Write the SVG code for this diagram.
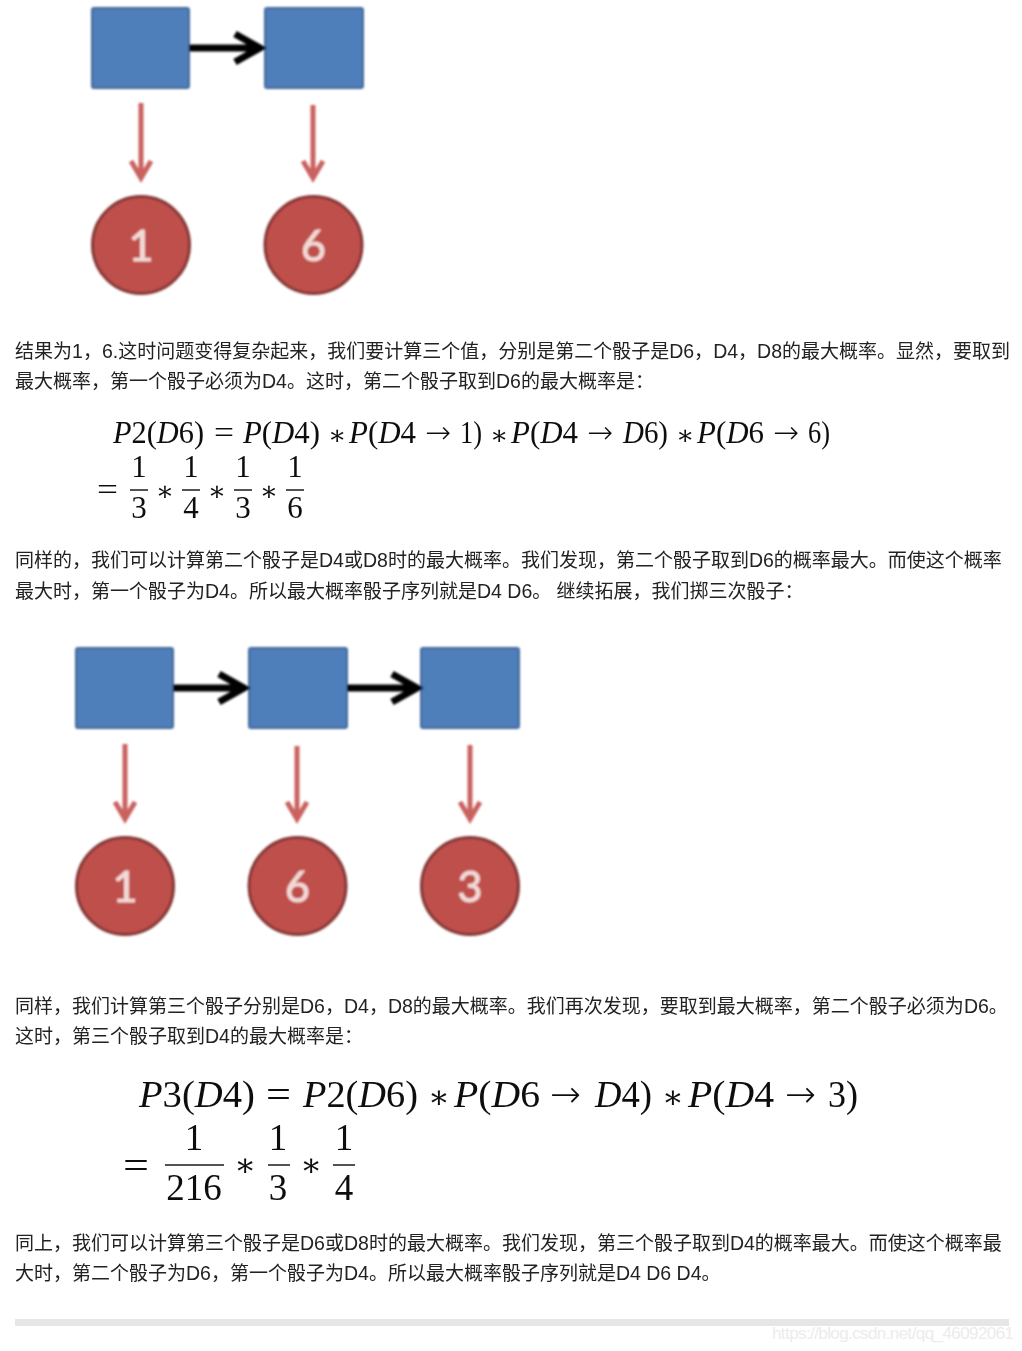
<svg xmlns="http://www.w3.org/2000/svg" width="1022" height="1351" viewBox="0 0 1022 1351">
<style>
.body{font-family:"Liberation Sans","Noto Sans CJK SC",sans-serif;font-size:19px;fill:#222}
.l{font-size:19.500px}
.m{font-family:"Liberation Serif","DejaVu Serif",serif;fill:#111}
.m1{font-size:31px}.m2{font-size:37px}
.i{font-style:italic}
.ar{font-family:"DejaVu Sans",sans-serif;font-weight:300}
.st{font-size:27px}
.st2{font-size:32px}
.sq{fill:#4f7fba;stroke:#44699a;stroke-width:2}
.ci{fill:#bf504c;stroke:#843634;stroke-width:3}
.n{font-family:"Lato","Open Sans",sans-serif;font-size:43px;fill:#f3dad7;stroke:#f3dad7;stroke-width:0.900;text-anchor:middle}
.blk{fill:none;stroke:#000;stroke-width:7}
.red{fill:none;stroke:#c9625f;stroke-width:5}
.bar{stroke:#1a1a1a;stroke-width:1.600}
.mm{text-anchor:middle}
</style>
<defs>
<filter id="b" x="-5%" y="-5%" width="110%" height="110%"><feGaussianBlur stdDeviation="1"/></filter>
<filter id="s" x="-2%" y="-2%" width="104%" height="104%"><feGaussianBlur stdDeviation="0.4"/></filter>
<filter id="t" x="-2%" y="-2%" width="104%" height="104%"><feGaussianBlur stdDeviation="0.22"/></filter>
</defs>
<rect width="1022" height="1351" fill="#fff"/>
<g id="fig1" filter="url(#b)">
<g id="a1"><rect class="sq" x="92" y="8" width="97" height="80" rx="2"/></g>
<g id="a2"><rect class="sq" x="265" y="8" width="98" height="80" rx="2"/></g>
<g id="a3"><circle class="ci" cx="141" cy="245" r="48.500"/><text class="n" x="141" y="261">1</text></g>
<g id="a4"><circle class="ci" cx="313.500" cy="245" r="48.500"/><text class="n" x="313.500" y="261">6</text></g>
<g id="conn1">
<path class="blk" d="M189 48H260M235 34L260 48L235 62"/>
<path class="red" d="M141 103V178M131 161L141 178L151 161"/>
<path class="red" d="M313 105V178M303 161L313 178L323 161"/>
</g>
</g>
<g id="fig2" filter="url(#b)">
<g id="b1"><rect class="sq" x="76" y="648" width="97" height="80" rx="2"/></g>
<g id="b2"><rect class="sq" x="249" y="648" width="98" height="80" rx="2"/></g>
<g id="b3"><rect class="sq" x="421" y="648" width="98" height="80" rx="2"/></g>
<g id="b4"><circle class="ci" cx="125" cy="886" r="48.500"/><text class="n" x="125" y="902">1</text></g>
<g id="b5"><circle class="ci" cx="297.500" cy="886" r="48.500"/><text class="n" x="297.500" y="902">6</text></g>
<g id="b6"><circle class="ci" cx="470" cy="886" r="48.500"/><text class="n" x="470" y="902">3</text></g>
<g id="conn2">
<path class="blk" d="M173 688H244M219 674L244 688L219 702"/>
<path class="blk" d="M347 688H417M392 674L417 688L392 702"/>
<path class="red" d="M125 744V819M115 802L125 819L135 802"/>
<path class="red" d="M297 746V819M287 802L297 819L307 802"/>
<path class="red" d="M470 745V819M460 802L470 819L480 802"/>
</g>
</g>
<g id="text" filter="url(#t)">
<text class="body" x="15" y="358">结果为<tspan class="l">1</tspan>，<tspan class="l">6.</tspan>这时问题变得复杂起来，我们要计算三个值，分别是第二个骰子是<tspan class="l">D6</tspan>，<tspan class="l">D4</tspan>，<tspan class="l">D8</tspan>的最大概率。显然，要取到</text>
<text class="body" x="15" y="388">最大概率，第一个骰子必须为<tspan class="l">D4</tspan>。这时，第二个骰子取到<tspan class="l">D6</tspan>的最大概率是：</text>
<text class="body" x="15" y="567">同样的，我们可以计算第二个骰子是<tspan class="l">D4</tspan>或<tspan class="l">D8</tspan>时的最大概率。我们发现，第二个骰子取到<tspan class="l">D6</tspan>的概率最大。而使这个概率</text>
<text class="body" x="15" y="598">最大时，第一个骰子为<tspan class="l">D4</tspan>。所以最大概率骰子序列就是<tspan class="l">D4 D6</tspan>。 继续拓展，我们掷三次骰子：</text>
<text class="body" x="15" y="1013">同样，我们计算第三个骰子分别是<tspan class="l">D6</tspan>，<tspan class="l">D4</tspan>，<tspan class="l">D8</tspan>的最大概率。我们再次发现，要取到最大概率，第二个骰子必须为<tspan class="l">D6</tspan>。</text>
<text class="body" x="15" y="1043">这时，第三个骰子取到<tspan class="l">D4</tspan>的最大概率是：</text>
<text class="body" x="15" y="1250">同上，我们可以计算第三个骰子是<tspan class="l">D6</tspan>或<tspan class="l">D8</tspan>时的最大概率。我们发现，第三个骰子取到<tspan class="l">D4</tspan>的概率最大。而使这个概率最</text>
<text class="body" x="15" y="1280">大时，第二个骰子为<tspan class="l">D6</tspan>，第一个骰子为<tspan class="l">D4</tspan>。所以最大概率骰子序列就是<tspan class="l">D4 D6 D4</tspan>。</text>
</g>
<g id="formula1" filter="url(#s)">
<g class="m m1">
<text x="113" y="443" textLength="91" lengthAdjust="spacingAndGlyphs"><tspan class="i">P</tspan>2(<tspan class="i">D</tspan>6)</text>
<text x="214" y="443" textLength="20" lengthAdjust="spacingAndGlyphs">=</text>
<text x="243" y="443" textLength="77" lengthAdjust="spacingAndGlyphs"><tspan class="i">P</tspan>(<tspan class="i">D</tspan>4)</text>
<text class="st" x="328" y="444">∗</text>
<text x="349" y="443" textLength="67" lengthAdjust="spacingAndGlyphs"><tspan class="i">P</tspan>(<tspan class="i">D</tspan>4</text>
<text class="ar" x="425" y="443">→</text>
<text x="460" y="443" textLength="22" lengthAdjust="spacingAndGlyphs">1)</text>
<text class="st" x="490" y="444">∗</text>
<text x="511" y="443" textLength="67" lengthAdjust="spacingAndGlyphs"><tspan class="i">P</tspan>(<tspan class="i">D</tspan>4</text>
<text class="ar" x="587" y="443">→</text>
<text x="623" y="443" textLength="45" lengthAdjust="spacingAndGlyphs"><tspan class="i">D</tspan>6)</text>
<text class="st" x="676" y="444">∗</text>
<text x="697" y="443" textLength="67" lengthAdjust="spacingAndGlyphs"><tspan class="i">P</tspan>(<tspan class="i">D</tspan>6</text>
<text class="ar" x="773" y="443">→</text>
<text x="808" y="443" textLength="22" lengthAdjust="spacingAndGlyphs">6)</text>
<text x="97" y="500" textLength="21" lengthAdjust="spacingAndGlyphs">=</text>
<g class="mm">
<text x="139" y="477">1</text><text x="139" y="518">3</text>
<text x="191" y="477">1</text><text x="191" y="518">4</text>
<text x="243" y="477">1</text><text x="243" y="518">3</text>
<text x="295" y="477">1</text><text x="295" y="518">6</text>
<text class="st" x="165" y="500">∗</text><text class="st" x="217" y="500">∗</text><text class="st" x="269" y="500">∗</text>
</g>
</g>
<path class="bar" d="M130 490H148M182 490H200M234 490H252M286 490H304"/>
</g>
<g id="formula2" filter="url(#s)">
<g class="m m2">
<text x="139" y="1107" textLength="116" lengthAdjust="spacingAndGlyphs"><tspan class="i">P</tspan>3(<tspan class="i">D</tspan>4)</text>
<text x="266" y="1107" textLength="25" lengthAdjust="spacingAndGlyphs">=</text>
<text x="303" y="1107" textLength="115" lengthAdjust="spacingAndGlyphs"><tspan class="i">P</tspan>2(<tspan class="i">D</tspan>6)</text>
<text class="st2" x="428" y="1108">∗</text>
<text x="454" y="1107" textLength="86" lengthAdjust="spacingAndGlyphs"><tspan class="i">P</tspan>(<tspan class="i">D</tspan>6</text>
<text class="ar" x="550" y="1107">→</text>
<text x="595" y="1107" textLength="57" lengthAdjust="spacingAndGlyphs"><tspan class="i">D</tspan>4)</text>
<text class="st2" x="662" y="1108">∗</text>
<text x="688" y="1107" textLength="86" lengthAdjust="spacingAndGlyphs"><tspan class="i">P</tspan>(<tspan class="i">D</tspan>4</text>
<text class="ar" x="785" y="1107">→</text>
<text x="828" y="1107" textLength="30" lengthAdjust="spacingAndGlyphs">3)</text>
<text x="123" y="1178" textLength="26" lengthAdjust="spacingAndGlyphs">=</text>
<g class="mm">
<text x="194" y="1150">1</text><text x="194" y="1200">216</text>
<text x="278" y="1150">1</text><text x="278" y="1200">3</text>
<text x="344" y="1150">1</text><text x="344" y="1200">4</text>
<text class="st2" x="245" y="1176">∗</text><text class="st2" x="311" y="1176">∗</text>
</g>
</g>
<path class="bar" d="M165 1165H224M268 1165H290M333 1165H355"/>
</g>
<rect id="rule" x="15" y="1319" width="994" height="7" fill="#e6e6e6"/>
<text id="wm" x="772" y="1339" font-family="Liberation Sans,sans-serif" font-size="17" fill="#ececec" textLength="242">https://blog.csdn.net/qq_46092061</text>
</svg>
